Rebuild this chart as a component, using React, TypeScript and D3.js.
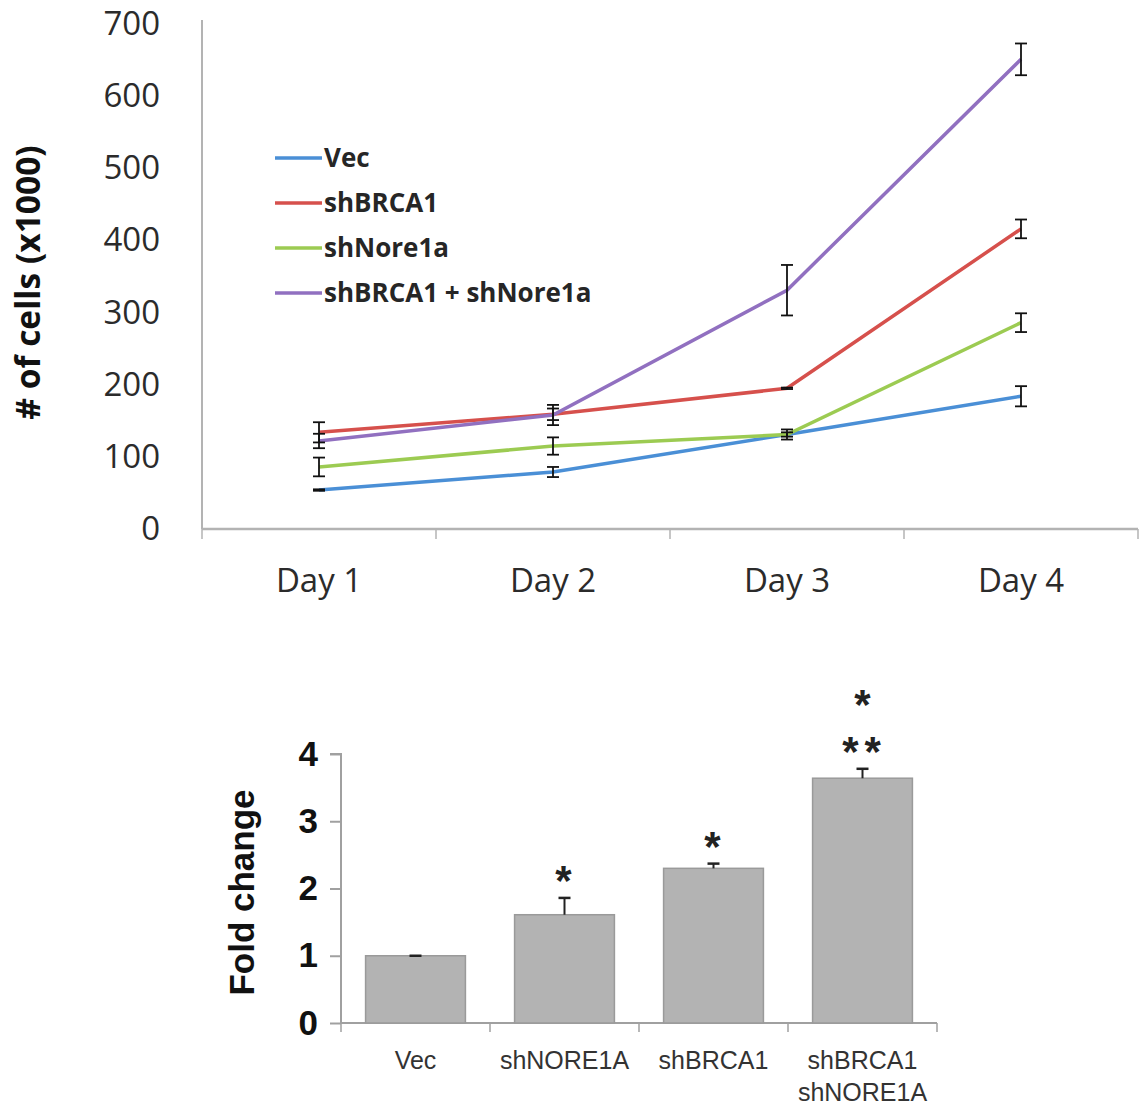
import React, { useEffect, useRef } from 'react'
import * as d3 from 'd3'

// top panel: cell counts (x1000) per day
const days = ['Day 1', 'Day 2', 'Day 3', 'Day 4']
const seriesNames = ['Vec', 'shBRCA1', 'shNore1a', 'shBRCA1 + shNore1a']
const vecCells = [54, 79, 131, 184]
const shBrcaCells = [134, 159, 195, 416]
const shNoreCells = [86, 115, 131, 286]
const shBothCells = [122, 158, 331, 651]
const vecErr = [1, 7, 3, 14]
const shBrcaErr = [14, 8, 1, 13]
const shNoreErr = [13, 12, 7, 13]
const shBothErr = [10, 14, 35, 22]
const cellTicks = [0, 100, 200, 300, 400, 500, 600, 700]
const lineColors = ['#4a8fd6', '#d6504c', '#9ccb52', '#9170c0']

// bottom panel: fold change
const groups = ['Vec', 'shNORE1A', 'shBRCA1', 'shBRCA1|shNORE1A']
const foldChange = [1.0, 1.61, 2.3, 3.64]
const foldErr = [0, 0.25, 0.07, 0.14]
const starsLow = ['', '*', '*', '**']
const starsHigh = ['', '', '', '*']
const foldTicks = [0, 1, 2, 3, 4]

const SANS = "'Open Sans', 'Noto Sans', sans-serif"
const ARIAL = "'Liberation Sans', Arial, sans-serif"

export default function App() {
  const ref = useRef<SVGSVGElement>(null)

  useEffect(() => {
    const svg = d3.select(ref.current)
    svg.selectAll('*').remove()

    // ---------- line chart ----------
    const cells = [vecCells, shBrcaCells, shNoreCells, shBothCells]
    const errs = [vecErr, shBrcaErr, shNoreErr, shBothErr]
    const x = d3.scaleBand().domain(days).range([202, 1138])
    const y = d3.scaleLinear().domain([0, 700]).range([529, 24])
    const axisColor = '#b3b3b3'

    const top = svg.append('g')

    const yAxis = top.append('g')
      .attr('transform', `translate(${x.range()[0]},0)`)
      .call(d3.axisLeft(y).tickValues(cellTicks).tickSize(0).tickPadding(42))
    yAxis.select('.domain').remove()
    yAxis.selectAll('text')
      .attr('font-family', SANS).attr('font-size', 33).attr('fill', '#2b2b2b')

    const xAxis = top.append('g')
      .attr('transform', `translate(0,${y(0)})`)
      .call(d3.axisBottom(x).tickSize(0).tickPadding(40))
    xAxis.select('.domain').remove()
    xAxis.selectAll('text')
      .attr('font-family', SANS).attr('font-size', 33).attr('fill', '#2b2b2b')

    top.append('line')
      .attr('x1', x.range()[0]).attr('x2', x.range()[0])
      .attr('y1', y(700) - 4).attr('y2', y(0))
      .attr('stroke', axisColor).attr('stroke-width', 2)
    top.append('line')
      .attr('x1', x.range()[0]).attr('x2', x.range()[1])
      .attr('y1', y(0)).attr('y2', y(0))
      .attr('stroke', axisColor).attr('stroke-width', 2.5)
    const bounds = days.map(d => x(d)!).concat([x.range()[1]])
    top.selectAll('.xtick')
      .data(bounds)
      .enter()
      .append('line')
      .attr('x1', d => d).attr('x2', d => d)
      .attr('y1', y(0)).attr('y2', y(0) + 10)
      .attr('stroke', axisColor).attr('stroke-width', 1.5)

    top.append('text')
      .attr('transform', `translate(40,${(y(0) + y(700)) / 2 + 6}) rotate(-90)`)
      .attr('text-anchor', 'middle')
      .attr('font-family', SANS).attr('font-weight', 700).attr('font-size', 33.5)
      .attr('fill', '#111')
      .text('# of cells (x1000)')

    const cx = (d: string) => x(d)! + x.bandwidth() / 2
    const line = d3.line<number>()
      .x((d, i) => cx(days[i]))
      .y(d => y(d))

    cells.forEach((vals, s) => {
      top.append('path')
        .datum(vals)
        .attr('d', line)
        .attr('fill', 'none')
        .attr('stroke', lineColors[s])
        .attr('stroke-width', 3.5)
    })

    cells.forEach((vals, s) => {
      const gs = top.selectAll(`.err${s}`)
        .data(vals)
        .enter()
        .append('g')
        .attr('stroke', '#111')
        .attr('stroke-width', 1.8)
      gs.append('line')
        .attr('x1', (d, i) => cx(days[i])).attr('x2', (d, i) => cx(days[i]))
        .attr('y1', (d, i) => y(d - errs[s][i])).attr('y2', (d, i) => y(d + errs[s][i]))
      gs.append('line')
        .attr('x1', (d, i) => cx(days[i]) - 6).attr('x2', (d, i) => cx(days[i]) + 6)
        .attr('y1', (d, i) => y(d + errs[s][i])).attr('y2', (d, i) => y(d + errs[s][i]))
      gs.append('line')
        .attr('x1', (d, i) => cx(days[i]) - 6).attr('x2', (d, i) => cx(days[i]) + 6)
        .attr('y1', (d, i) => y(d - errs[s][i])).attr('y2', (d, i) => y(d - errs[s][i]))
    })

    const legend = top.selectAll('.legend')
      .data(seriesNames)
      .enter()
      .append('g')
      .attr('transform', (d, i) => `translate(275,${158 + i * 45})`)
    legend.append('line')
      .attr('x1', 0).attr('x2', 47)
      .attr('stroke', (d, i) => lineColors[i])
      .attr('stroke-width', 3.5)
    legend.append('text')
      .attr('x', 49).attr('dy', '0.36em')
      .attr('font-family', SANS).attr('font-weight', 700).attr('font-size', 26)
      .attr('fill', '#262626')
      .text(d => d)

    // ---------- bar chart ----------
    const bx = d3.scaleBand().domain(groups).range([341, 937])
      .paddingInner(0.33).paddingOuter(0.165)
    const by = d3.scaleLinear().domain([0, 4]).range([1023, 754])
    const bAxis = '#a0a0a0'

    const bottom = svg.append('g')

    const byAxis = bottom.append('g')
      .attr('transform', `translate(${bx.range()[0]},0)`)
      .call(d3.axisLeft(by).tickValues(foldTicks).tickFormat(d3.format('d'))
        .tickSize(11).tickPadding(12))
    byAxis.selectAll('path, line').attr('stroke', bAxis).attr('stroke-width', 2)
    byAxis.select('.domain').attr('d', `M-11,${by(4)}H0V${by(0)}`)
    byAxis.selectAll('text')
      .attr('font-family', ARIAL).attr('font-weight', 700).attr('font-size', 35)
      .attr('fill', '#111')

    bottom.append('line')
      .attr('x1', bx.range()[0]).attr('x2', bx.range()[1])
      .attr('y1', by(0)).attr('y2', by(0))
      .attr('stroke', bAxis).attr('stroke-width', 2)
    const bBounds = groups.map(d => bx(d)! - bx.step() * bx.paddingInner() / 2)
    bBounds[0] = bx.range()[0]
    bBounds.push(bx.range()[1])
    bottom.selectAll('.btick')
      .data(bBounds)
      .enter()
      .append('line')
      .attr('x1', d => d).attr('x2', d => d)
      .attr('y1', by(0)).attr('y2', by(0) + 9)
      .attr('stroke', bAxis).attr('stroke-width', 1.5)

    bottom.append('text')
      .attr('transform', `translate(254,${(by(0) + by(4)) / 2 + 4}) rotate(-90)`)
      .attr('text-anchor', 'middle')
      .attr('font-family', ARIAL).attr('font-weight', 700).attr('font-size', 35)
      .attr('fill', '#111')
      .text('Fold change')

    const bars = bottom.selectAll('.bar')
      .data(foldChange)
      .enter()
      .append('g')
    const bcx = (i: number) => bx(groups[i])! + bx.bandwidth() / 2

    bars.append('rect')
      .attr('x', (d, i) => bx(groups[i])!)
      .attr('y', d => by(d))
      .attr('width', bx.bandwidth())
      .attr('height', d => by(0) - by(d))
      .attr('fill', '#b3b3b3')
      .attr('stroke', '#9a9a9a')
      .attr('stroke-width', 1.5)

    bars.append('line')
      .attr('x1', (d, i) => bcx(i)).attr('x2', (d, i) => bcx(i))
      .attr('y1', d => by(d)).attr('y2', (d, i) => by(d + foldErr[i]))
      .attr('stroke', '#222').attr('stroke-width', 2)
    bars.append('line')
      .attr('x1', (d, i) => bcx(i) - 6).attr('x2', (d, i) => bcx(i) + 6)
      .attr('y1', (d, i) => by(d + foldErr[i])).attr('y2', (d, i) => by(d + foldErr[i]))
      .attr('stroke', '#222').attr('stroke-width', 2.5)

    bars.append('text')
      .attr('x', (d, i) => bcx(i) + 2)
      .attr('y', (d, i) => by(d + foldErr[i]) - 3)
      .attr('text-anchor', 'middle')
      .attr('font-family', ARIAL).attr('font-weight', 700).attr('font-size', 42)
      .attr('letter-spacing', 6)
      .attr('fill', '#222')
      .text((d, i) => starsLow[i])
    bars.append('text')
      .attr('x', (d, i) => bcx(i))
      .attr('y', (d, i) => by(d + foldErr[i]) - 50)
      .attr('text-anchor', 'middle')
      .attr('font-family', ARIAL).attr('font-weight', 700).attr('font-size', 42)
      .attr('fill', '#222')
      .text((d, i) => starsHigh[i])

    const labels = bottom.selectAll('.blabel')
      .data(groups)
      .enter()
      .append('text')
      .attr('text-anchor', 'middle')
      .attr('font-family', ARIAL).attr('font-size', 25)
      .attr('fill', '#333')
    labels.selectAll('tspan')
      .data(d => d.split('|').map(t => ({ t, g: d })))
      .enter()
      .append('tspan')
      .attr('x', d => bx(d.g)! + bx.bandwidth() / 2)
      .attr('y', (d, i) => 1069 + i * 32)
      .text(d => d.t)
  }, [])

  return (
    <div>
      <svg ref={ref} width={1144} height={1105}
        style={{ position: 'absolute', left: 0, top: 0, background: '#fff' }} />
    </div>
  )
}
